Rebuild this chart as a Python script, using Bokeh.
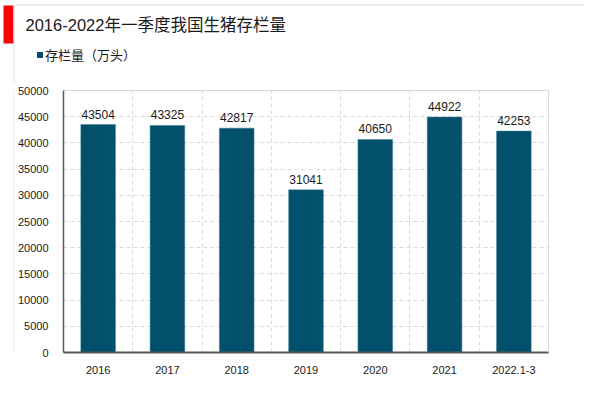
from bokeh.plotting import figure
from bokeh.models import ColumnDataSource, FixedTicker, LabelSet, Range1d
from bokeh.layouts import column, row
from bokeh.core.properties import value
from bokeh.embed import file_html
from bokeh.resources import INLINE

categories = ["2016", "2017", "2018", "2019", "2020", "2021", "2022.1-3"]
values = [43504, 43325, 42817, 31041, 40650, 44922, 42253]
y_ticks = [0, 5000, 10000, 15000, 20000, 25000, 30000, 35000, 40000, 45000, 50000]
title_text = "2016-2022年一季度我国生猪存栏量"
legend_text = "存栏量（万头）"

FONT = "Liberation Sans, Noto Sans CJK SC"
BAR = "#02506B"
FRAME = "#e0e0e0"

W = 584
HEAD_H = 82
BODY_H = 295
STRIP_W = 14


def blank(width, height):
    f = figure(width=width, height=height, output_backend="svg", toolbar_location=None,
               x_range=Range1d(0, width), y_range=Range1d(height, 0),
               x_axis_type=None, y_axis_type=None, min_border=0)
    f.outline_line_color = None
    f.background_fill_color = "white"
    f.border_fill_color = "white"
    f.grid.visible = False
    return f

# ---- header: title, red marker, legend, frame top ----
head = blank(W, HEAD_H)
head.quad(left=[3], right=[13], top=[5], bottom=[43], fill_color="#ff0000", line_color=None)
head.segment(x0=[13.5, 13.5], y0=[4.5, 4.5], x1=[W, 13.5], y1=[4.5, HEAD_H], line_color=FRAME, line_width=1)
head.text(x=[25], y=[24.5], text=[title_text], text_font=value(FONT), text_font_size="16.5px",
          text_baseline="middle", text_color="#1a1a1a")
head.quad(left=[36.5], right=[42.5], top=[51.5], bottom=[57.5], fill_color=BAR, line_color=None)
head.text(x=[44.5], y=[55], text=[legend_text], text_font=value(FONT), text_font_size="13px",
          text_baseline="middle", text_color="#1a1a1a")

# ---- left strip carrying the frame's left edge ----
strip = blank(STRIP_W, BODY_H)
strip.segment(x0=[13.5], y0=[0], x1=[13.5], y1=[BODY_H], line_color=FRAME, line_width=1)

# ---- chart ----
NX = len(categories)
xs = [i + 0.5 for i in range(NX)]
src = ColumnDataSource(dict(x=xs, top=values, lab=[str(v) for v in values]))

p = figure(width=W - STRIP_W, height=BODY_H, output_backend="svg", toolbar_location=None,
           x_range=(0, NX), y_range=(0, 50000),
           min_border_left=48, min_border_right=36, min_border_top=8, min_border_bottom=25)
p.background_fill_color = "white"
p.border_fill_color = "white"
p.outline_line_color = "#d9d9d9"
p.outline_line_width = 1

p.vbar(x="x", top="top", width=0.5, source=src, fill_color=BAR, line_color="#3f7f95", line_width=0.5)

p.add_layout(LabelSet(x="x", y="top", text="lab", source=src, text_align="center",
                      text_baseline="bottom", y_offset=6, text_font_size="12px",
                      text_font=value(FONT), text_color="#1a1a1a"))

p.xaxis.ticker = FixedTicker(ticks=xs)
p.xaxis.major_label_overrides = {x: c for x, c in zip(xs, categories)}
p.yaxis.ticker = FixedTicker(ticks=y_ticks)
for ax in (p.xaxis, p.yaxis):
    ax.major_tick_line_color = None
    ax.minor_tick_line_color = None
    ax.major_label_text_font_size = "11px"
    ax.major_label_text_font = FONT
    ax.major_label_text_color = "#1a1a1a"
    ax.axis_line_color = "#595959"
p.xaxis.axis_line_width = 2
p.yaxis.axis_line_width = 1.5
p.xaxis.major_label_standoff = 7
p.yaxis.major_label_standoff = 9

p.xgrid.ticker = FixedTicker(ticks=list(range(1, NX)))
p.xgrid.grid_line_color = "#d9d9d9"
p.xgrid.grid_line_dash = "4 3"
p.ygrid.grid_line_color = "#d9d9d9"
p.ygrid.grid_line_dash = "4 3"

layout = column(head, row(strip, p, spacing=0), spacing=0)

open("out.html", "w").write(file_html(layout, INLINE))
